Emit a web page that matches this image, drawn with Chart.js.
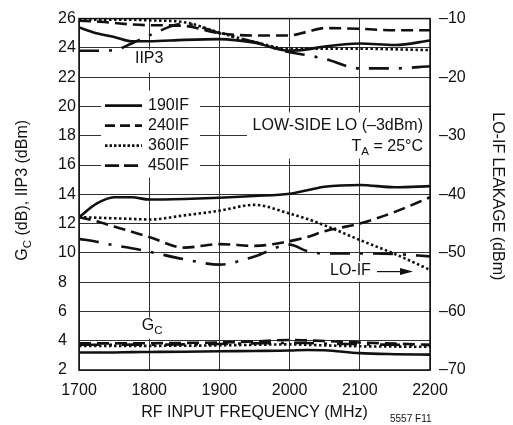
<!DOCTYPE html>
<html>
<head>
<meta charset="utf-8">
<script src="https://cdn.jsdelivr.net/npm/chart.js@4.4.1/dist/chart.umd.min.js"></script>
<style>
  html, body { margin: 0; padding: 0; background: #fff; }
</style>
</head>
<body>
<canvas id="chart" width="513" height="425"></canvas>
<script>
const FONT = "'Liberation Sans', Arial, sans-serif";
const FS = 16;
const INK = '#111';

// frequency points (MHz) shared by every curve
const freqs = [1700, 1725, 1750, 1775, 1800, 1850, 1900, 1950, 2000, 2025, 2050, 2100, 2150, 2200];
const seriesNames = ['190IF', '240IF', '360IF', '450IF'];

// IIP3 (dB), left axis
const iip3_190 = [25.4, 25.0, 24.75, 24.45, 24.45, 24.55, 24.6, 24.35, 23.8, 23.9, 24.1, 24.3, 24.2, 24.5];
const iip3_240 = [25.85, 25.8, 25.7, 25.6, 25.55, 25.5, 25.0, 24.85, 24.85, 25.1, 25.35, 25.3, 25.2, 25.2];
const iip3_360 = [25.92, 25.92, 25.92, 25.92, 25.88, 25.75, 25.05, 24.4, 23.95, 23.95, 23.95, 23.95, 23.9, 23.85];
const iip3_450 = [23.8, 23.8, 23.85, 24.3, 24.85, 25.65, 25.0, 24.4, 23.7, 23.5, 23.25, 22.6, 22.6, 22.75];

// conversion gain Gc (dB), left axis
const gc_190 = [3.2, 3.2, 3.2, 3.22, 3.23, 3.25, 3.28, 3.3, 3.33, 3.37, 3.35, 3.15, 3.08, 3.05];
const gc_240 = [3.82, 3.82, 3.82, 3.83, 3.83, 3.85, 3.88, 3.95, 4.05, 4.02, 3.98, 3.88, 3.8, 3.72];
const gc_360 = [3.65, 3.65, 3.65, 3.65, 3.65, 3.66, 3.68, 3.72, 3.75, 3.72, 3.68, 3.62, 3.6, 3.58];
const gc_450 = [3.72, 3.72, 3.72, 3.73, 3.73, 3.75, 3.78, 3.82, 3.85, 3.84, 3.8, 3.76, 3.72, 3.7];

// LO-IF leakage (dBm), right axis
const lo_190 = [-43.9, -41.6, -40.5, -40.5, -40.9, -40.8, -40.6, -40.3, -39.9, -39.3, -38.7, -38.4, -38.8, -38.6];
const lo_240 = [-43.9, -44.6, -45.5, -46.4, -47.3, -49.1, -48.5, -48.8, -48.0, -47.3, -46.3, -45.0, -43.0, -40.5];
const lo_360 = [-43.9, -44.0, -44.1, -44.2, -44.3, -43.6, -42.8, -41.8, -43.3, -44.2, -45.3, -47.8, -50.2, -52.9];
const lo_450 = [-47.6, -48.1, -48.7, -49.2, -49.8, -51.1, -52.0, -50.6, -48.6, -49.7, -50.1, -50.1, -50.2, -50.6];

const leftTicks = { min: 2, max: 26, step: 2 };
const rightTicks = { min: -70, max: -10, step: 10 };

const iip3 = [iip3_190, iip3_240, iip3_360, iip3_450];
const gc = [gc_190, gc_240, gc_360, gc_450];
const lo = [lo_190, lo_240, lo_360, lo_450];

const dashes = [[], [12, 6], [2.5, 2.5], [20, 10, 3, 10]];
const legendDashes = [[], [10, 5], [2.5, 2], [14, 5, 14, 6, 3, 20]];

const toPoints = vals => vals.map((v, i) => ({ x: freqs[i], y: v }));

const datasets = [];
seriesNames.forEach((name, i) => {
    const style = {
        borderColor: INK,
        borderWidth: 2.6,
        borderDash: dashes[i],
        pointRadius: 0,
        fill: false,
        cubicInterpolationMode: 'monotone'
    };
    datasets.push({ label: name + ' IIP3', data: toPoints(iip3[i]), yAxisID: 'y', ...style });
    datasets.push({ label: name + ' GC', data: toPoints(gc[i]), yAxisID: 'y', ...style });
    datasets.push({ label: name + ' LO-IF', data: toPoints(lo[i]), yAxisID: 'y2', ...style });
});

function dash(v) {
    return v < 0 ? '\u2013' + Math.abs(v) : String(v);
}

// draw a run of [text, isSubscript] pieces
function drawRuns(ctx, runs, x, y, size, align) {
    const widths = runs.map(([t, sub]) => {
        ctx.font = (sub ? size * 0.72 : size) + 'px ' + FONT;
        return ctx.measureText(t).width;
    });
    const total = widths.reduce((a, b) => a + b, 0);
    let cx = align === 'center' ? x - total / 2 : align === 'right' ? x - total : x;
    ctx.textAlign = 'left';
    ctx.textBaseline = 'middle';
    runs.forEach(([t, sub], i) => {
        ctx.font = (sub ? size * 0.72 : size) + 'px ' + FONT;
        ctx.fillText(t, cx, sub ? y + size * 0.3 : y);
        cx += widths[i];
    });
}

const overlay = {
    id: 'overlay',
    beforeDatasetsDraw(chart) {
        // white gaps in the grid where the labels sit
        const { ctx, chartArea: a } = chart;
        const gaps = [
            [22, 72, 121, 159],   // legend
            [55, 31, 87, 54],     // IIP3
            [168, 94, 351, 140],  // LOW-SIDE LO / TA
            [247, 243, 339, 263], // LO-IF
            [58, 299, 84, 320]    // GC
        ];
        ctx.save();
        ctx.fillStyle = '#fff';
        gaps.forEach(([x0, y0, x1, y1]) => ctx.fillRect(a.left + x0, a.top + y0, x1 - x0, y1 - y0));
        ctx.restore();
    },
    afterDatasetsDraw(chart) {
        const { ctx, chartArea: a, scales } = chart;
        const X = scales.x, Y = scales.y;
        ctx.save();
        ctx.fillStyle = INK;
        ctx.strokeStyle = INK;

        // frame
        ctx.lineWidth = 1.5;
        ctx.strokeRect(a.left, a.top, a.right - a.left, a.bottom - a.top);

        // legend
        seriesNames.forEach((name, i) => {
            const y = a.top + 87 + i * 20;
            ctx.beginPath();
            ctx.lineWidth = 2.6;
            ctx.setLineDash(legendDashes[i]);
            ctx.moveTo(a.left + 26, y);
            ctx.lineTo(a.left + 63, y);
            ctx.stroke();
            ctx.setLineDash([]);
            drawRuns(ctx, [[name, false]], a.left + 69, y, FS, 'left');
        });

        drawRuns(ctx, [['IIP3', false]], X.getPixelForValue(1800), Y.getPixelForValue(23.25), FS, 'center');
        drawRuns(ctx, [['G', false], ['C', true]], X.getPixelForValue(1800) + 3, Y.getPixelForValue(5.0), FS, 'center');
        drawRuns(ctx, [['LOW-SIDE LO (\u20133dBm)', false]], a.right - 7, a.top + 107, FS, 'right');
        drawRuns(ctx, [['T', false], ['A', true], [' = 25\u00B0C', false]], a.right - 7, a.top + 128, FS, 'right');
        drawRuns(ctx, [['LO-IF', false]], a.left + 251, a.top + 252, FS, 'left');

        // arrow
        const ay = a.top + 253;
        ctx.lineWidth = 1.2;
        ctx.beginPath();
        ctx.moveTo(a.left + 298, ay);
        ctx.lineTo(a.left + 326, ay);
        ctx.stroke();
        ctx.beginPath();
        ctx.moveTo(a.left + 334, ay);
        ctx.lineTo(a.left + 321, ay - 3.5);
        ctx.lineTo(a.left + 321, ay + 3.5);
        ctx.closePath();
        ctx.fill();

        // axis titles
        ctx.save();
        ctx.translate(23, (a.top + a.bottom) / 2 - 4);
        ctx.rotate(-Math.PI / 2);
        drawRuns(ctx, [['G', false], ['C', true], [' (dB), IIP3 (dBm)', false]], 0, 0, FS, 'center');
        ctx.restore();

        ctx.save();
        ctx.translate(497, (a.top + a.bottom) / 2 + 2);
        ctx.rotate(Math.PI / 2);
        drawRuns(ctx, [['LO-IF LEAKAGE (dBm)', false]], 0, 0, FS, 'center');
        ctx.restore();

        drawRuns(ctx, [['5557 F11', false]], 390, 419, 10, 'left');
        ctx.restore();
    }
};

new Chart(document.getElementById('chart').getContext('2d'), {
    type: 'line',
    data: { datasets },
    options: {
        responsive: false,
        animation: false,
        layout: { padding: { left: 58, right: 33, top: 18, bottom: 0 } },
        plugins: {
            legend: { display: false },
            tooltip: { enabled: false }
        },
        scales: {
            x: {
                type: 'linear',
                min: 1700,
                max: 2200,
                afterFit: s => { s.height = 55; },
                ticks: {
                    stepSize: 100,
                    color: INK,
                    padding: 11,
                    font: { family: FONT, size: FS },
                    callback: v => String(v)
                },
                grid: { color: '#333', lineWidth: 1, drawTicks: false },
                border: { display: false },
                title: {
                    display: true,
                    text: 'RF INPUT FREQUENCY (MHz)',
                    color: INK,
                    font: { family: FONT, size: FS },
                    padding: { top: 0, bottom: 3 }
                }
            },
            y: {
                position: 'left',
                min: leftTicks.min,
                max: leftTicks.max,
                afterFit: s => { s.width = 21; },
                ticks: {
                    stepSize: leftTicks.step,
                    crossAlign: 'far',
                    color: INK,
                    font: { family: FONT, size: FS }
                },
                grid: { color: '#333', lineWidth: 1, drawTicks: false },
                border: { display: false }
            },
            y2: {
                position: 'right',
                min: rightTicks.min,
                max: rightTicks.max,
                afterFit: s => { s.width = 50; },
                ticks: {
                    stepSize: rightTicks.step,
                    padding: 9,
                    color: INK,
                    font: { family: FONT, size: FS },
                    callback: v => dash(v)
                },
                grid: { display: false, drawTicks: false },
                border: { display: false }
            }
        }
    },
    plugins: [overlay]
});
</script>
</body>
</html>
